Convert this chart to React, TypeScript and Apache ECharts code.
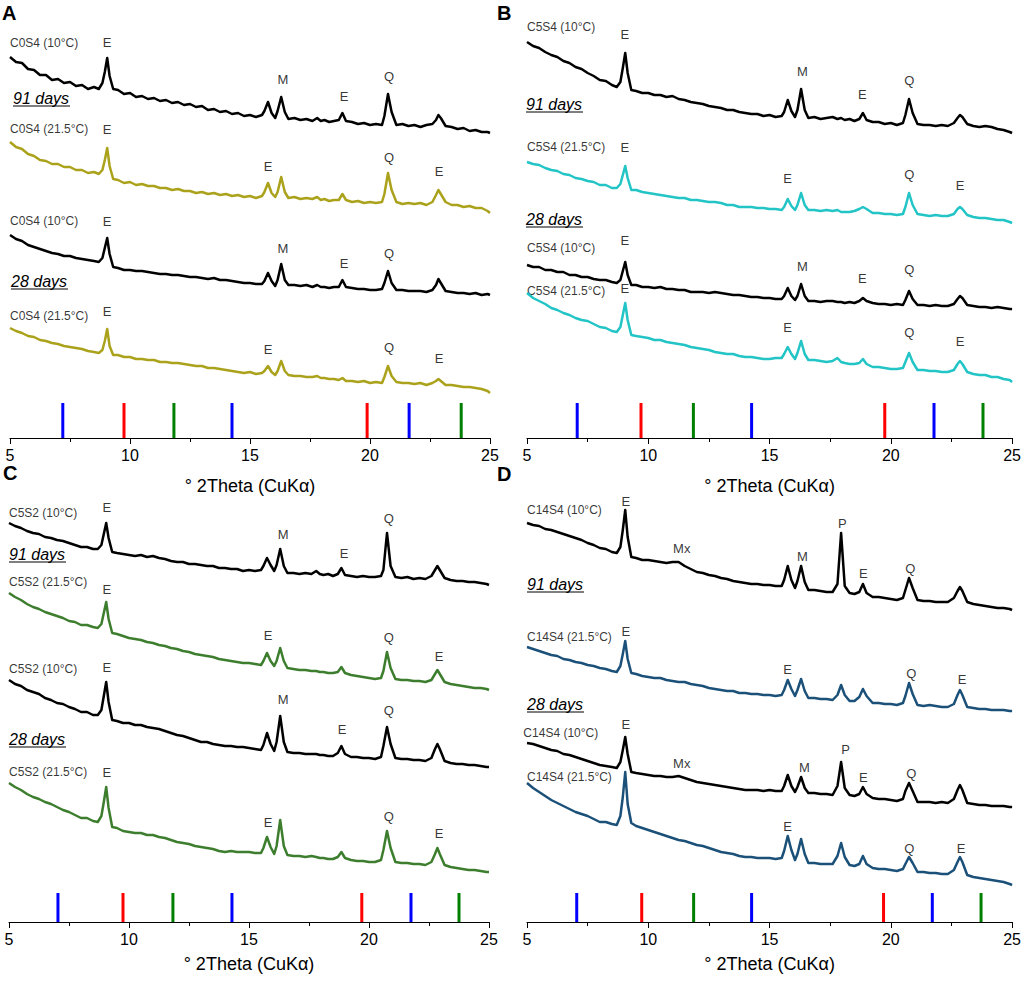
import React, { useEffect, useRef } from 'react';
import * as echarts from 'echarts';

const FONT = '"Liberation Sans", Arial, sans-serif';

// shared 2θ grid (degrees)
const X = [
  5, 5.25, 5.5, 5.75, 6, 6.25, 6.5, 6.75, 7, 7.25,
  7.5, 7.75, 8, 8.25, 8.5, 8.7, 8.85, 8.95, 9.05, 9.15,
  9.3, 9.5, 9.75, 10, 10.25, 10.5, 10.75, 11, 11.25, 11.5,
  11.75, 12, 12.25, 12.5, 12.75, 13, 13.25, 13.5, 13.75, 14,
  14.25, 14.5, 14.75, 15, 15.25, 15.5, 15.6, 15.75, 15.9, 16.05,
  16.15, 16.3, 16.45, 16.6, 16.85, 17.1, 17.35, 17.6, 17.8, 17.95,
  18.1, 18.3, 18.5, 18.7, 18.85, 19.0, 19.25, 19.5, 19.75, 20,
  20.25, 20.5, 20.6, 20.75, 20.9, 21.1, 21.35, 21.6, 21.85, 22.1,
  22.35, 22.6, 22.75, 22.85, 22.95, 23.15, 23.4, 23.65, 23.9, 24.15,
  24.4, 24.65, 24.9, 25,
];

// Panel A: C0S4 (intensity incl. stacking offset)
const A1 = [
  381, 376, 375, 369, 368, 363, 363, 358, 359, 355,
  356, 352, 353, 349, 351, 349, 355, 366, 380, 362,
  349, 348, 344, 345, 341, 342, 339, 340, 337, 338,
  335, 336, 333, 334, 331, 332, 328, 329, 326, 327,
  324, 325, 322, 323, 321, 323, 327, 336, 325, 320,
  327, 341, 326, 319, 320, 318, 319, 317, 320, 317,
  318, 316, 317, 318, 325, 317, 316, 314, 315, 313,
  314, 313, 322, 344, 326, 313, 314, 312, 313, 311,
  313, 314, 318, 323, 320, 312, 311, 309, 310, 307,
  308, 306, 306, 305,
];
const A2 = [
  296, 291, 289, 284, 282, 278, 277, 274, 274, 271,
  271, 268, 268, 265, 266, 264, 268, 278, 290, 272,
  259, 258, 255, 256, 253, 254, 252, 252, 250, 250,
  248, 249, 247, 247, 245, 246, 244, 245, 243, 244,
  242, 243, 241, 242, 240, 242, 246, 255, 245, 241,
  246, 261, 246, 240, 241, 239, 240, 239, 241, 238,
  239, 237, 238, 238, 244, 238, 236, 237, 235, 236,
  235, 236, 244, 265, 248, 236, 234, 235, 234, 235,
  233, 236, 243, 248, 244, 236, 233, 233, 231, 232,
  230, 230, 227, 225,
];
const A3 = [
  203, 199, 197, 193, 191, 189, 187, 185, 184, 182,
  182, 180, 179, 178, 177, 176, 180, 190, 200, 184,
  171, 170, 168, 168, 167, 167, 166, 165, 164, 164,
  163, 163, 162, 161, 161, 160, 159, 160, 158, 158,
  157, 156, 155, 155, 154, 154, 157, 165, 157, 152,
  158, 174, 158, 153, 153, 152, 153, 151, 153, 151,
  151, 150, 151, 151, 158, 151, 150, 149, 149, 148,
  148, 149, 155, 167, 155, 148, 148, 147, 147, 147,
  146, 148, 153, 159, 155, 147, 146, 145, 145, 144,
  145, 143, 144, 143,
];
const A4 = [
  110, 107, 105, 102, 101, 98, 97, 95, 94, 92,
  91, 90, 89, 87, 86, 85, 88, 97, 109, 92,
  83, 83, 81, 81, 79, 79, 78, 78, 76, 76,
  75, 75, 74, 73, 72, 72, 70, 70, 69, 68,
  67, 66, 65, 66, 64, 65, 67, 72, 66, 63,
  67, 77, 67, 63, 62, 62, 61, 61, 62, 60,
  60, 59, 59, 58, 60, 57, 57, 56, 57, 55,
  56, 55, 61, 72, 62, 56, 55, 55, 54, 55,
  53, 55, 57, 59, 57, 53, 53, 52, 51, 51,
  50, 49, 47, 45,
];

// Panel B: C5S4
const B1 = [
  396, 392, 390, 386, 383, 381, 377, 375, 371, 369,
  365, 362, 358, 357, 353, 351, 356, 370, 385, 365,
  348, 347, 345, 345, 343, 343, 341, 342, 339, 338,
  336, 335, 334, 332, 331, 330, 328, 328, 326, 325,
  324, 324, 322, 323, 321, 322, 326, 338, 327, 321,
  328, 349, 328, 320, 321, 319, 320, 321, 319, 320,
  318, 319, 317, 319, 325, 318, 316, 316, 314, 315,
  313, 315, 323, 339, 325, 314, 313, 313, 312, 313,
  312, 315, 320, 323, 321, 314, 312, 311, 312, 311,
  309, 308, 306, 305,
];
const B2 = [
  276, 274, 273, 270, 268, 267, 264, 263, 260, 259,
  257, 256, 253, 253, 250, 250, 254, 263, 272, 260,
  248, 248, 246, 245, 244, 243, 242, 241, 240, 240,
  238, 238, 237, 236, 236, 235, 233, 233, 231, 231,
  231, 230, 230, 229, 229, 228, 231, 239, 232, 228,
  233, 245, 233, 228, 228, 227, 228, 227, 228, 226,
  226, 226, 227, 229, 231, 229, 225, 225, 224, 224,
  223, 224, 231, 245, 233, 224, 223, 222, 223, 222,
  222, 224, 229, 231, 229, 223, 221, 220, 220, 219,
  218, 218, 216, 215,
];
const B3 = [
  173, 171, 171, 168, 168, 166, 166, 163, 163, 161,
  161, 159, 158, 158, 156, 155, 158, 167, 176, 163,
  153, 153, 151, 151, 150, 151, 149, 149, 148, 148,
  146, 146, 146, 145, 146, 145, 144, 143, 143, 142,
  141, 141, 140, 140, 139, 139, 142, 150, 142, 138,
  142, 154, 142, 137, 137, 136, 137, 137, 136, 136,
  135, 136, 135, 137, 140, 137, 135, 134, 134, 133,
  134, 133, 138, 147, 139, 133, 133, 132, 133, 132,
  132, 134, 139, 142, 140, 133, 132, 131, 131, 130,
  131, 130, 129, 129,
];
const B4 = [
  145, 140, 137, 134, 130, 128, 125, 123, 120, 118,
  117, 114, 111, 110, 107, 106, 111, 123, 135, 118,
  103, 102, 101, 100, 98, 98, 96, 95, 94, 93,
  91, 90, 89, 88, 86, 85, 84, 84, 82, 81,
  81, 80, 79, 79, 80, 80, 84, 91, 84, 79,
  85, 97, 84, 78, 78, 77, 76, 77, 80, 76,
  75, 74, 74, 75, 79, 74, 71, 71, 70, 69,
  69, 70, 76, 85, 76, 68, 68, 67, 67, 66,
  66, 68, 74, 77, 74, 66, 64, 63, 63, 61,
  61, 59, 58, 56,
];

// Panel C: C5S2
const C1 = [
  399, 396, 394, 391, 389, 388, 385, 384, 382, 381,
  379, 377, 375, 375, 373, 373, 377, 388, 399, 384,
  370, 369, 368, 367, 366, 367, 365, 366, 364, 363,
  361, 360, 360, 358, 358, 357, 356, 356, 354, 354,
  353, 353, 351, 352, 351, 352, 356, 364, 357, 351,
  357, 373, 356, 349, 349, 348, 349, 348, 351, 348,
  347, 348, 346, 348, 354, 347, 346, 345, 346, 345,
  345, 346, 352, 389, 356, 345, 344, 345, 343, 344,
  343, 346, 352, 356, 352, 344, 342, 341, 341, 340,
  340, 339, 338, 337,
];
const C2 = [
  329, 325, 322, 318, 315, 313, 310, 308, 306, 304,
  301, 300, 297, 297, 295, 294, 298, 309, 320, 303,
  289, 288, 286, 284, 283, 282, 280, 279, 277, 276,
  274, 273, 271, 270, 268, 267, 266, 265, 263, 262,
  261, 260, 259, 259, 258, 257, 261, 269, 261, 256,
  261, 274, 261, 254, 253, 252, 252, 251, 251, 250,
  250, 249, 249, 250, 255, 249, 247, 246, 245, 244,
  243, 244, 251, 270, 254, 243, 242, 242, 241, 241,
  240, 242, 248, 252, 248, 240, 238, 237, 236, 235,
  234, 234, 233, 232,
];
const C3 = [
  242, 238, 236, 232, 230, 228, 224, 222, 219, 218,
  215, 213, 210, 210, 207, 207, 212, 226, 240, 220,
  202, 201, 199, 199, 197, 197, 195, 194, 193, 191,
  189, 187, 186, 184, 182, 180, 180, 178, 177, 176,
  176, 175, 175, 174, 173, 172, 177, 189, 178, 171,
  180, 206, 180, 170, 169, 169, 168, 168, 168, 167,
  167, 166, 166, 169, 176, 168, 165, 165, 164, 164,
  163, 165, 176, 195, 178, 164, 163, 163, 162, 162,
  161, 164, 173, 178, 173, 161, 159, 158, 158, 157,
  157, 156, 155, 155,
];
const C4 = [
  139, 135, 132, 128, 125, 123, 120, 118, 115, 112,
  110, 107, 104, 104, 101, 100, 106, 120, 135, 114,
  95, 94, 91, 90, 89, 89, 87, 87, 85, 84,
  82, 80, 79, 78, 76, 75, 74, 73, 71, 70,
  71, 70, 70, 70, 69, 69, 74, 85, 75, 68,
  76, 102, 76, 67, 66, 66, 65, 66, 65, 64,
  64, 63, 63, 65, 70, 64, 62, 61, 61, 60,
  60, 62, 72, 91, 74, 60, 59, 59, 58, 58,
  57, 60, 68, 74, 68, 57, 55, 54, 53, 52,
  52, 51, 50, 50,
];

// Panel D: C14S4
const D1 = [
  399, 397, 396, 393, 392, 390, 388, 386, 384, 382,
  379, 377, 374, 373, 370, 369, 375, 392, 412, 385,
  365, 364, 362, 362, 361, 360, 359, 360, 360, 356,
  353, 350, 349, 347, 346, 344, 343, 341, 340, 339,
  338, 338, 337, 337, 336, 336, 342, 356, 342, 334,
  341, 356, 340, 332, 332, 331, 330, 330, 338, 389,
  336, 329, 328, 330, 338, 329, 325, 325, 324, 323,
  322, 324, 332, 344, 334, 322, 321, 321, 320, 320,
  320, 324, 331, 335, 331, 320, 318, 317, 316, 315,
  314, 314, 313, 312,
];
const D2 = [
  275, 273, 271, 269, 267, 266, 263, 262, 260, 259,
  257, 256, 254, 253, 251, 250, 256, 268, 281, 263,
  249, 248, 246, 245, 244, 244, 242, 241, 240, 240,
  238, 237, 236, 234, 233, 232, 231, 231, 229, 229,
  228, 228, 227, 227, 226, 227, 232, 242, 233, 226,
  232, 243, 231, 224, 224, 223, 223, 222, 227, 237,
  227, 221, 221, 225, 233, 226, 219, 219, 218, 218,
  217, 219, 226, 239, 228, 217, 216, 217, 216, 215,
  215, 218, 227, 232, 227, 215, 214, 213, 213, 212,
  212, 212, 211, 211,
];
const D3 = [
  179, 178, 176, 174, 172, 171, 168, 167, 165, 163,
  161, 159, 157, 156, 155, 154, 160, 172, 185, 168,
  150, 149, 148, 147, 146, 146, 145, 145, 146, 144,
  142, 140, 139, 138, 137, 136, 135, 134, 133, 132,
  132, 132, 131, 132, 131, 131, 136, 147, 136, 130,
  135, 145, 134, 129, 129, 128, 128, 127, 136, 160,
  134, 127, 126, 128, 135, 128, 124, 123, 123, 122,
  121, 123, 131, 139, 131, 120, 120, 120, 119, 120,
  119, 123, 132, 137, 132, 119, 118, 117, 117, 116,
  116, 116, 115, 115,
];
const D4 = [
  139, 134, 130, 126, 122, 119, 116, 113, 110, 108,
  106, 103, 100, 100, 98, 97, 106, 125, 150, 118,
  99, 96, 94, 92, 90, 88, 86, 84, 82, 81,
  79, 77, 76, 74, 72, 70, 69, 68, 66, 65,
  65, 64, 64, 64, 63, 64, 71, 86, 72, 62,
  68, 83, 68, 59, 59, 58, 58, 58, 66, 79,
  65, 57, 56, 58, 66, 58, 54, 53, 53, 52,
  51, 53, 58, 65, 59, 50, 50, 49, 49, 48,
  48, 52, 60, 65, 60, 47, 45, 44, 43, 42,
  41, 40, 38, 37,
];

// reference phase markers (2θ)
const BARS_A = [7.2, 9.75, 11.83, 14.25, 19.88, 21.63, 23.8];
const BARS_B = [7.07, 9.7, 11.86, 14.26, 19.75, 21.78, 23.8];
const BARS_C = [7.04, 9.75, 11.83, 14.29, 19.7, 21.75, 23.75];
const BARS_D = [7.05, 9.73, 11.87, 14.26, 19.7, 21.71, 23.72];
const BAR_COLORS = ['#0000ff', '#ff0000', '#008000', '#0000ff', '#ff0000', '#0000ff', '#008000'];
const BAR_H_TOP = 35;
const BAR_H_BOTTOM = 29;

// annotations: [2θ, intensity, text, align]
const LABELS_A: any[] = [
  [5.0, 395, 'C0S4 (10°C)', 'left'], [9.04, 396, 'E'], [16.375, 359, 'M'], [18.92, 342, 'E'], [20.79, 362, 'Q'],
  [5.0, 309, 'C0S4 (21.5°C)', 'left'], [9.04, 309, 'E'], [15.75, 272, 'E'], [20.79, 281, 'Q'], [22.875, 267, 'E'],
  [5.0, 217, 'C0S4 (10°C)', 'left'], [9.04, 217, 'E'], [16.375, 190, 'M'], [18.92, 175, 'E'], [20.79, 185, 'Q'],
  [5.0, 122, 'C0S4 (21.5°C)', 'left'], [9.04, 127, 'E'], [15.75, 89, 'E'], [20.79, 91, 'Q'], [22.875, 80, 'E'],
];
const LABELS_B: any[] = [
  [5.0, 411, 'C5S4 (10°C)', 'left'], [9.03, 404, 'E'], [16.36, 367, 'M'], [18.83, 344, 'E'], [20.76, 358, 'Q'],
  [5.0, 291, 'C5S4 (21.5°C)', 'left'], [9.03, 291, 'E'], [15.74, 260, 'E'], [20.76, 264, 'Q'], [22.86, 253, 'E'],
  [5.0, 190, 'C5S4 (10°C)', 'left'], [9.03, 198, 'E'], [16.36, 172, 'M'], [18.83, 160, 'E'], [20.76, 169, 'Q'],
  [5.0, 147, 'C5S4 (21.5°C)', 'left'], [9.03, 150, 'E'], [15.74, 111, 'E'], [20.76, 106, 'Q'], [22.86, 97, 'E'],
];
const LABELS_C: any[] = [
  [5.0, 409, 'C5S2 (10°C)', 'left'], [9.08, 415, 'E'], [16.42, 388, 'M'], [18.96, 369, 'E'], [20.83, 404, 'Q'],
  [5.0, 340, 'C5S2 (21.5°C)', 'left'], [9.08, 333, 'E'], [15.79, 287, 'E'], [20.83, 285, 'Q'], [22.92, 266, 'E'],
  [5.0, 253, 'C5S2 (10°C)', 'left'], [9.08, 255, 'E'], [16.42, 223, 'M'], [18.875, 193, 'E'], [20.83, 212, 'Q'],
  [5.0, 150, 'C5S2 (21.5°C)', 'left'], [9.08, 150, 'E'], [15.79, 100, 'E'], [20.83, 106, 'Q'], [22.92, 89, 'E'],
];
const LABELS_D: any[] = [
  [5.0, 412, 'C14S4 (10°C)', 'left'], [9.07, 421, 'E'], [11.38, 374, 'Mx'], [16.36, 366, 'M'], [18.0, 399, 'P'], [18.87, 349, 'E'], [20.8, 354, 'Q'],
  [5.0, 285, 'C14S4 (21.5°C)', 'left'], [9.07, 291, 'E'], [15.74, 253, 'E'], [20.84, 249, 'Q'], [22.94, 243, 'E'],
  [4.85, 189, 'C14S4 (10°C)', 'left'], [9.07, 198, 'E'], [11.38, 159, 'Mx'], [16.44, 155, 'M'], [18.13, 173, 'P'], [18.87, 145, 'E'], [20.84, 149, 'Q'],
  [5.0, 145, 'C14S4 (21.5°C)', 'left'], [15.74, 96, 'E'], [20.76, 74, 'Q'], [22.9, 74, 'E'],
];

const OLIVE = '#aba21c';
const CYAN = '#22c4c6';
const GREEN = '#3d7e2e';
const NAVY = '#1b5079';

const PANELS = [
  { left: 10, width: 480, top: 20, height: 418, traces: [A1, A2, A3, A4], colors: ['#000', OLIVE, '#000', OLIVE], bars: BARS_A, barH: BAR_H_TOP, labels: LABELS_A, nameGap: 39 },
  { left: 527, width: 486, top: 20, height: 418, traces: [B1, B2, B3, B4], colors: ['#000', CYAN, '#000', CYAN], bars: BARS_B, barH: BAR_H_TOP, labels: LABELS_B, nameGap: 39 },
  { left: 9, width: 480, top: 490, height: 432, traces: [C1, C2, C3, C4], colors: ['#000', GREEN, '#000', GREEN], bars: BARS_C, barH: BAR_H_BOTTOM, labels: LABELS_C, nameGap: 33 },
  { left: 527, width: 486, top: 490, height: 432, traces: [D1, D2, D3, D4], colors: ['#000', NAVY, '#000', NAVY], bars: BARS_D, barH: BAR_H_BOTTOM, labels: LABELS_D, nameGap: 33 },
];

const LETTERS = [
  { t: 'A', x: 2, y: 3 }, { t: 'B', x: 497, y: 3 }, { t: 'C', x: 3, y: 463 }, { t: 'D', x: 497, y: 464 },
];
const DAYS = [
  { t: '91 days', x: 13, y: 98 }, { t: '28 days', x: 11, y: 281 },
  { t: '91 days', x: 526, y: 104 }, { t: '28 days', x: 526, y: 219 },
  { t: '91 days', x: 9, y: 554 }, { t: '28 days', x: 9, y: 739 },
  { t: '91 days', x: 527, y: 584 }, { t: '28 days', x: 527, y: 704 },
];

function buildOption() {
  const grid: any[] = [];
  const xAxis: any[] = [];
  const yAxis: any[] = [];
  const series: any[] = [];
  PANELS.forEach((p, i) => {
    grid.push({ left: p.left, top: p.top, width: p.width, height: p.height, containLabel: false });
    xAxis.push({
      gridIndex: i, type: 'value', min: 5, max: 25, interval: 5,
      axisLine: { show: true, onZero: false, lineStyle: { color: '#000', width: 1.2 } },
      axisTick: { show: true, inside: false, length: 6, lineStyle: { color: '#000', width: 1 } },
      minorTick: { show: true, splitNumber: 2, length: 4, lineStyle: { color: '#000', width: 1 } },
      splitLine: { show: false },
      axisLabel: { color: '#000', fontSize: 16, margin: 9, fontFamily: FONT },
      name: '° 2Theta (CuKα)', nameLocation: 'middle', nameGap: p.nameGap,
      nameTextStyle: { color: '#000', fontSize: 18, fontFamily: FONT },
    });
    yAxis.push({ gridIndex: i, type: 'value', min: 0, max: p.height, show: false, splitLine: { show: false } });
    p.traces.forEach((t, j) => {
      series.push({
        type: 'line', xAxisIndex: i, yAxisIndex: i, silent: true,
        data: X.map((x, k) => [x, t[k]]),
        symbol: 'none', showSymbol: false,
        lineStyle: { color: p.colors[j], width: 2.5, join: 'round' },
      });
    });
    series.push({
      type: 'bar', xAxisIndex: i, yAxisIndex: i, silent: true, barWidth: 3,
      data: p.bars.map((b, k) => ({ value: [b, p.barH], itemStyle: { color: BAR_COLORS[k] } })),
    });
    series.push({
      type: 'scatter', xAxisIndex: i, yAxisIndex: i, silent: true, clip: false,
      symbolSize: 1, itemStyle: { color: 'rgba(0,0,0,0)' },
      data: p.labels.map((l: any) => ({
        value: [l[0], l[1]],
        label: {
          show: true, position: 'inside', formatter: l[2], align: l[3] || 'center',
          verticalAlign: 'middle', color: '#000', fontFamily: FONT, fontSize: l[3] ? 12 : 13,
        },
      })),
    });
  });

  const graphic: any[] = [];
  LETTERS.forEach((l) => {
    graphic.push({ type: 'text', left: l.x, top: l.y, silent: true, style: { text: l.t, fill: '#000', font: `bold 20px ${FONT}` } });
  });
  DAYS.forEach((d) => {
    graphic.push({ type: 'text', x: d.x, y: d.y, silent: true, style: { text: d.t, fill: '#000', font: `italic 16px ${FONT}`, verticalAlign: 'middle', align: 'left' } });
    graphic.push({ type: 'line', silent: true, shape: { x1: d.x, y1: d.y + 8, x2: d.x + 57, y2: d.y + 8 }, style: { stroke: '#000', lineWidth: 1 } });
  });

  return { animation: false, backgroundColor: '#fff', grid, xAxis, yAxis, series, graphic };
}

export default function App() {
  const ref = useRef<HTMLDivElement>(null);
  useEffect(() => {
    if (!ref.current) return;
    const chart = echarts.init(ref.current, undefined, { renderer: 'svg' });
    chart.setOption(buildOption() as any);
    return () => chart.dispose();
  }, []);
  return <div ref={ref} style={{ position: 'fixed', left: 0, top: 0, width: 1024, height: 982, background: '#fff' }} />;
}
